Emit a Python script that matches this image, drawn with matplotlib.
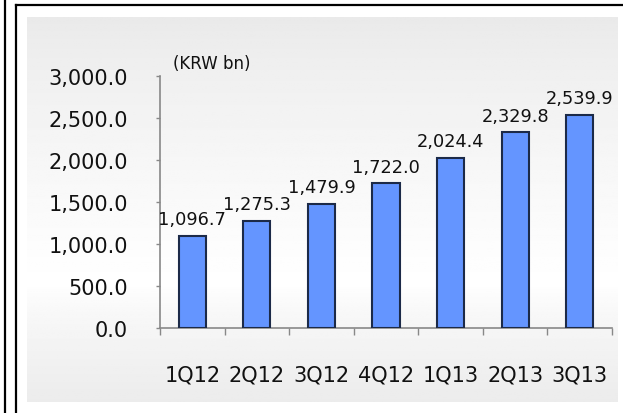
import numpy as np
import matplotlib
matplotlib.use("Agg")
import matplotlib.pyplot as plt
from matplotlib.lines import Line2D

# Quarterly figures (KRW bn)
quarters = ['1Q12', '2Q12', '3Q12', '4Q12', '1Q13', '2Q13', '3Q13']
values = [1096.7, 1275.3, 1479.9, 1722.0, 2024.4, 2329.8, 2539.9]
y_ticks = [0, 500, 1000, 1500, 2000, 2500, 3000]
unit_label = '(KRW bn)'

W, H = 623, 414
fig = plt.figure(figsize=(W / 100, H / 100), dpi=100)
fig.patch.set_facecolor('white')

# outer frame lines
fig.add_artist(Line2D([5 / W, 5 / W], [0, 1], color='black', lw=1.6))
fig.add_artist(Line2D([16 / W, 16 / W], [0, 1 - 6 / H], color='black', lw=1.6))
fig.add_artist(Line2D([16 / W, 1], [1 - 6 / H, 1 - 6 / H], color='black', lw=1.6))

# grey panel with a soft vertical gradient, lightest around the bar area
bg = fig.add_axes([27 / W, 11 / H, 591 / W, 385 / H])
bg.set_axis_off()
rows = np.linspace(0, 1, 200)
centre = 0.70
shade = np.where(rows < centre,
                 0.915 + 0.085 * (rows / centre) ** 0.8,
                 1.0 - 0.075 * ((rows - centre) / (1 - centre)) ** 0.7)
grad = np.repeat(shade[:, None], 2, axis=1)
bg.imshow(grad, cmap='gray', vmin=0, vmax=1, aspect='auto',
          extent=[0, 1, 0, 1], origin='upper')

ax = fig.add_axes([160 / W, 85 / H, 452 / W, 252 / H])
ax.set_facecolor('none')

x = np.arange(len(quarters))
ax.bar(x, values, width=0.42, color='#6495ff', edgecolor='#1c2a48',
       linewidth=1.5, zorder=3)

for xi, v in zip(x, values):
    ax.annotate(f'{v:,.1f}', (xi, v), xytext=(0, 8.3), textcoords='offset points',
                ha='center', va='baseline', fontsize=12.8, color='#111111')

ax.set_xlim(-0.5, len(quarters) - 0.5)
ax.set_ylim(0, 3000)

ax.set_yticks(y_ticks)
ax.set_yticklabels([f'{t:,.1f}' for t in y_ticks])
ax.tick_params(axis='y', length=3, width=1, color='#888888', pad=20,
               labelsize=15, labelcolor='#111111')

ax.set_xticks(x)
ax.set_xticklabels(quarters)
ax.tick_params(axis='x', which='major', length=0, pad=26,
               labelsize=15, labelcolor='#111111')
ax.set_xticks(np.arange(-0.5, len(quarters)), minor=True)
ax.tick_params(axis='x', which='minor', length=5, width=1, color='#888888')

for side in ('top', 'right'):
    ax.spines[side].set_visible(False)
for side in ('left', 'bottom'):
    ax.spines[side].set_color('#888888')
    ax.spines[side].set_linewidth(1.2)

fig.text(173 / W, 1 - 69 / H, unit_label, fontsize=12, color='#111111',
         ha='left', va='baseline')

fig.savefig('out.png', dpi=100)
